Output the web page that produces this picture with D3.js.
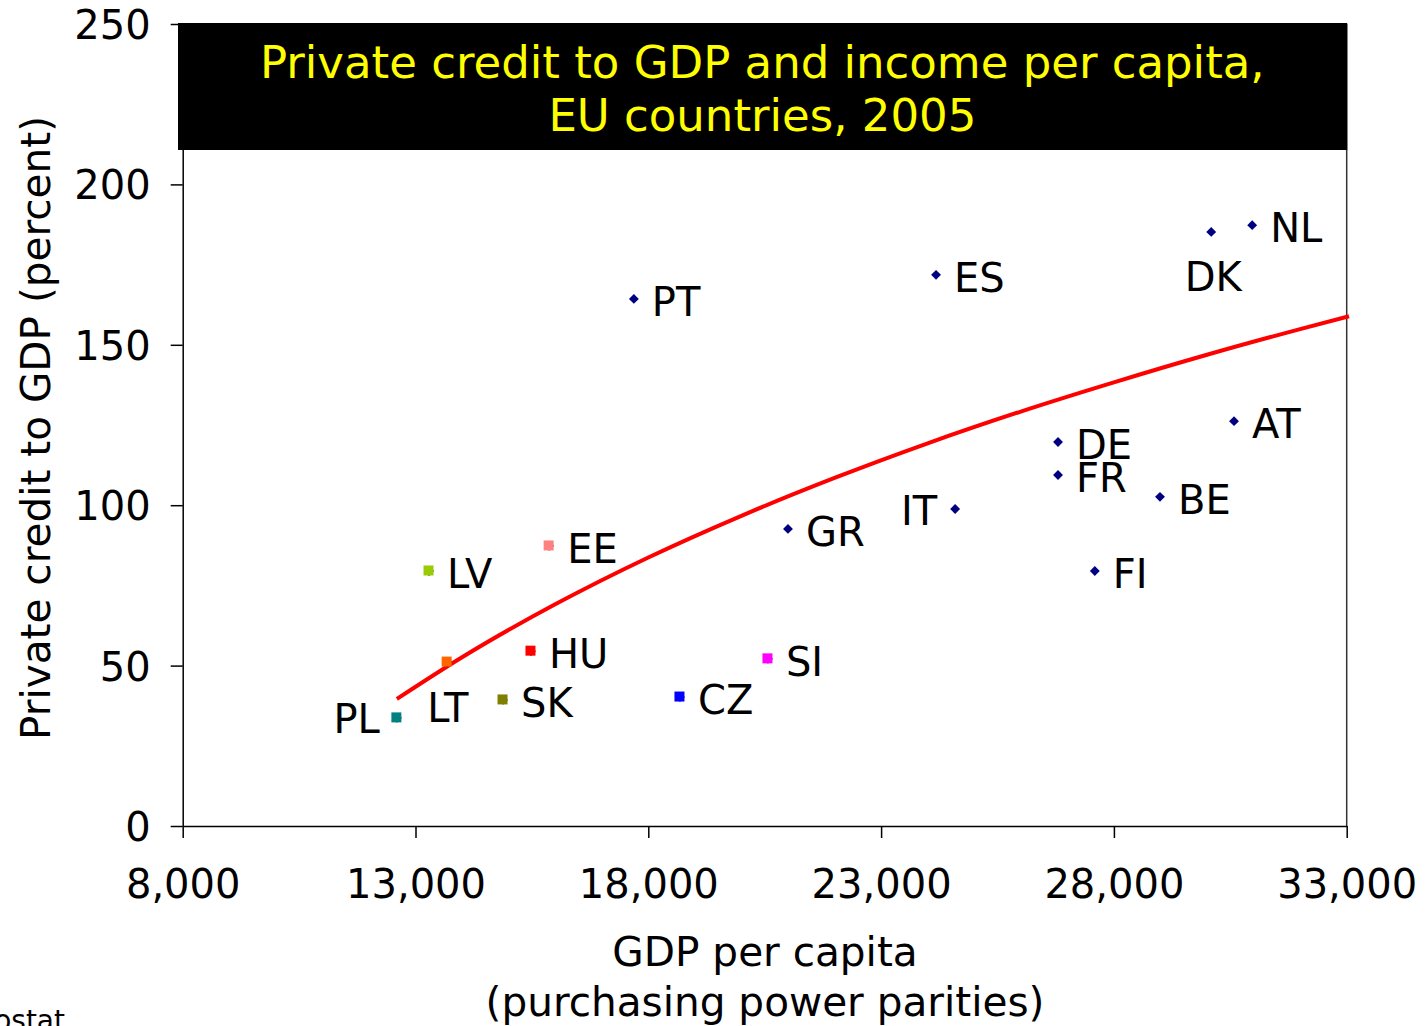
<!DOCTYPE html>
<html>
<head>
<meta charset="utf-8">
<script src="https://cdn.jsdelivr.net/npm/d3@7"></script>
<style>
  html, body { margin: 0; padding: 0; background: #ffffff; }
  svg { display: block; font-family: "DejaVu Sans", Verdana, sans-serif; }
</style>
</head>
<body>
<svg id="chart" width="1425" height="1026"></svg>
<script>
// Country codes, GDP per capita (PPP) and private credit to GDP (percent), 2005
const countries = ["PL", "LT", "LV", "EE", "HU", "SK", "CZ", "SI", "GR", "PT",
                   "ES", "IT", "DE", "FR", "FI", "BE", "AT", "DK", "NL"];
const gdpPerCapita = [12600, 13680, 13290, 15870, 15480, 14880, 18680, 20570, 21000, 17690,
                      24180, 24590, 26800, 26800, 27590, 28990, 30580, 30090, 30970];
const privateCredit = [33.7, 51.1, 79.5, 87.3, 54.5, 39.3, 40.2, 52.1, 92.6, 164.3,
                       171.8, 98.8, 119.7, 109.4, 79.5, 102.6, 126.2, 185.2, 187.3];

// Logarithmic trend line, sampled along the curve
const trendGdp = [12600, 14000, 16000, 18000, 20000, 22000, 24000, 26000, 28000, 30000, 32000, 33050];
const trendCredit = [39.6, 52.6, 69.1, 83.7, 96.7, 108.5, 119.3, 129.2, 138.3, 146.9, 154.9, 158.9];

// Axis ticks
const xTicks = [8000, 13000, 18000, 23000, 28000, 33000];
const yTicks = [0, 50, 100, 150, 200, 250];

const titleLines = ["Private credit to GDP and income per capita,", "EU countries, 2005"];

// New member states get their own colour; the rest share navy diamonds
const markerColor = {
  PL: "#008080", LT: "#ff6600", LV: "#99cc00", EE: "#ff8080",
  HU: "#ff0000", SK: "#808000", CZ: "#0000ff", SI: "#ff00ff"
};

// Label placement relative to the marker: [dx, dy, anchor]
const labelPlacement = {
  PL: [-17, 15, "end"],
  LT: [-20, 60, "start"],
  IT: [-18, 16, "end"],
  DK: [2, 59, "middle"]
};
const defaultPlacement = [18, 17, "start"];

const svg = d3.select("#chart");

const x = d3.scaleLinear().domain([8000, 33000]).range([182.7, 1346.7]);
const y = d3.scaleLinear().domain([0, 250]).range([826, 24]);

const fontSize = 40;
const titleFontSize = 40.6;

// Right frame of the plot area
svg.append("line")
  .attr("x1", x(33000)).attr("x2", x(33000))
  .attr("y1", y(250)).attr("y2", y(0))
  .attr("stroke", "#333").attr("stroke-width", 1.5);

// Y axis
const yAxis = svg.append("g")
  .attr("transform", `translate(${x(8000)},0)`)
  .call(d3.axisLeft(y).tickValues(yTicks).tickSize(12).tickSizeOuter(0).tickPadding(20));
yAxis.select(".domain").attr("stroke", "#000").attr("stroke-width", 1.5);
yAxis.selectAll(".tick line").attr("stroke", "#000").attr("stroke-width", 1.5);
yAxis.selectAll(".tick text")
  .attr("font-size", fontSize).attr("font-family", "DejaVu Sans, Verdana, sans-serif")
  .attr("fill", "#000").attr("dy", "0.36em");

// X axis
const xAxis = svg.append("g")
  .attr("transform", `translate(0,${y(0)})`)
  .call(d3.axisBottom(x).tickValues(xTicks).tickFormat(d3.format(",")).tickSize(12).tickSizeOuter(0));
xAxis.select(".domain").attr("stroke", "#000").attr("stroke-width", 1.5);
xAxis.selectAll(".tick line").attr("stroke", "#000").attr("stroke-width", 1.5);
xAxis.selectAll(".tick text")
  .attr("font-size", fontSize).attr("font-family", "DejaVu Sans, Verdana, sans-serif")
  .attr("fill", "#000").attr("y", 72).attr("dy", 0);

// Title box
svg.append("rect")
  .attr("x", 178).attr("y", y(250) - 1)
  .attr("width", x(33000) - 178 + 0.5).attr("height", 127)
  .attr("fill", "#000");
svg.append("g").selectAll("text")
  .data(titleLines)
  .join("text")
  .attr("x", (178 + x(33000)) / 2)
  .attr("y", (d, i) => 78 + i * 53)
  .attr("text-anchor", "middle")
  .attr("font-size", 45)
  .attr("fill", "#ffff00")
  .text(d => d);

// Trend line
const trend = trendGdp.map((g, i) => [g, trendCredit[i]]);
svg.append("path")
  .datum(trend)
  .attr("fill", "none")
  .attr("stroke", "#ff0000")
  .attr("stroke-width", 4)
  .attr("d", d3.line().x(d => x(d[0])).y(d => y(d[1])).curve(d3.curveMonotoneX));

// Points
const points = countries.map((c, i) => ({ c, g: gdpPerCapita[i], v: privateCredit[i] }));
const pts = svg.append("g").selectAll("g").data(points).join("g")
  .attr("transform", d => `translate(${x(d.g)},${y(d.v)})`);

pts.append("path")
  .attr("d", d3.symbol().type(d3.symbolDiamond2).size(62))
  .attr("fill", "#000080");

pts.filter(d => markerColor[d.c])
  .append("rect")
  .attr("x", -5.5).attr("y", -5.5).attr("width", 10).attr("height", 10)
  .attr("fill", d => markerColor[d.c]);

pts.append("text")
  .attr("x", d => (labelPlacement[d.c] || defaultPlacement)[0])
  .attr("y", d => (labelPlacement[d.c] || defaultPlacement)[1])
  .attr("text-anchor", d => (labelPlacement[d.c] || defaultPlacement)[2])
  .attr("font-size", fontSize)
  .attr("fill", "#000")
  .text(d => d.c);

// Axis titles
svg.append("text")
  .attr("transform", `translate(50,428) rotate(-90)`)
  .attr("text-anchor", "middle")
  .attr("font-size", titleFontSize)
  .attr("fill", "#000")
  .text("Private credit to GDP (percent)");

svg.append("g").selectAll("text")
  .data(["GDP per capita", "(purchasing power parities)"])
  .join("text")
  .attr("x", 765)
  .attr("y", (d, i) => 966 + i * 50)
  .attr("text-anchor", "middle")
  .attr("font-size", titleFontSize)
  .attr("fill", "#000")
  .text(d => d);

// Source note
svg.append("text")
  .attr("x", 65).attr("y", 1030)
  .attr("text-anchor", "end")
  .attr("font-size", 28)
  .attr("fill", "#000")
  .text("Source: Eurostat");
</script>
</body>
</html>
